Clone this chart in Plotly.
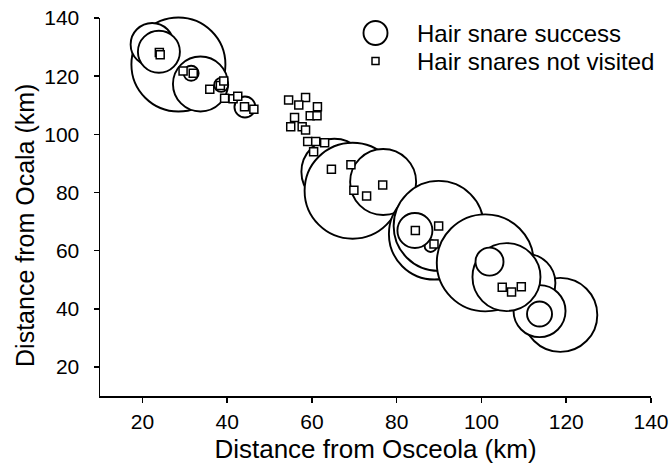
import plotly.graph_objects as go

# Hair snare success sites (bubble diameter in px reflects success)
success_x = [28.5, 22.3, 23.9, 33.7, 31.5, 38.6, 44.2, 65.3, 69.6, 76.8, 88.9, 89.9, 88.0, 84.3,
             100.9, 118.6, 110.6, 113.7, 113.7, 105.9, 101.9]
success_y = [124.0, 130.9, 128.4, 117.3, 121.0, 117.0, 109.4, 87.1, 80.6, 83.6, 65.7, 68.5, 61.6, 66.9,
             55.8, 37.9, 48.9, 39.2, 38.2, 50.9, 56.2]
success_value = [94, 43, 42, 55, 15, 14, 21, 66, 96, 66, 91, 90, 12, 35,
                 97, 74, 58, 52, 25, 68, 28]

# Hair snares not visited
novisit_x = [24.0, 24.2, 29.6, 32.0, 35.9, 38.4, 39.2, 39.4, 41.4, 42.5, 44.1, 46.3,
             54.5, 58.5, 56.9, 61.3, 59.6, 61.2, 55.9, 55.0, 57.7, 58.5, 59.0, 60.9, 63.0, 60.4,
             64.6, 69.2, 69.9, 72.9, 76.7,
             84.4, 89.9, 88.8, 104.9, 107.1, 109.4]
novisit_y = [128.1, 127.4, 121.8, 121.0, 115.5, 116.8, 118.3, 112.4, 112.2, 113.1, 109.5, 108.6,
             111.8, 112.7, 110.1, 109.5, 106.4, 106.4, 105.8, 102.6, 102.6, 101.5, 97.5, 97.5, 97.1, 94.0,
             88.0, 89.5, 80.8, 78.8, 82.6,
             66.9, 68.5, 62.3, 47.4, 45.8, 47.6]

tick_vals = [20, 40, 60, 80, 100, 120, 140]
legend_labels = ["Hair snare success", "Hair snares not visited"]
x_title = "Distance from Osceola (km)"
y_title = "Distance from Ocala (km)"

FONT = "Liberation Sans, Arial, sans-serif"

fig = go.Figure()
fig.add_trace(go.Scatter(
    x=success_x, y=success_y, mode="markers", showlegend=False, hoverinfo="skip",
    marker=dict(symbol="circle", size=success_value, color="white", opacity=1,
                line=dict(color="black", width=1.9)),
    cliponaxis=False,
))
fig.add_trace(go.Scatter(
    x=novisit_x, y=novisit_y, mode="markers", showlegend=False, hoverinfo="skip",
    marker=dict(symbol="square", size=8, color="white", opacity=1,
                line=dict(color="black", width=1.5)),
    cliponaxis=False,
))

axis_common = dict(
    showgrid=False, zeroline=False, showline=True, linecolor="black", linewidth=1.5,
    ticks="outside", ticklen=5, tickwidth=1.5, tickcolor="black",
    tickvals=tick_vals, tickfont=dict(family=FONT, size=21, color="black"),
    automargin=False, ticklabeloverflow="allow",
)

fig.update_layout(
    width=669, height=468,
    margin=dict(l=100, r=18, t=18, b=72, autoexpand=False),
    paper_bgcolor="white", plot_bgcolor="white",
    xaxis=dict(range=[10, 140], ticklabelstandoff=1,
               title=dict(text=x_title,
                          font=dict(family=FONT, size=26, color="black"), standoff=8),
               **axis_common),
    yaxis=dict(range=[10, 140], ticklabelstandoff=10, **axis_common),
)

# y-axis title as rotated text (slightly below the axis centre, as in the source)
fig.add_annotation(text=y_title, xref="paper", yref="paper", x=-0.136, y=0.45,
                   xanchor="center", yanchor="middle", textangle=-90, showarrow=False,
                   font=dict(family=FONT, size=25, color="black"))

# Manual legend
leg_x = 0.5
leg_y = [0.9603, 0.8862]
fig.add_shape(type="circle", xref="paper", yref="paper", xsizemode="pixel", ysizemode="pixel",
              xanchor=leg_x, yanchor=leg_y[0], x0=-12, x1=12, y0=-12, y1=12,
              line=dict(color="black", width=1.9), fillcolor="white")
fig.add_shape(type="rect", xref="paper", yref="paper", xsizemode="pixel", ysizemode="pixel",
              xanchor=leg_x, yanchor=leg_y[1], x0=-3.5, x1=3.5, y0=-3.5, y1=3.5,
              line=dict(color="black", width=1.5), fillcolor="white")
for lab, yy in zip(legend_labels, leg_y):
    fig.add_annotation(text=lab, xref="paper", yref="paper", x=0.5725, y=yy,
                       xanchor="left", yanchor="middle", showarrow=False,
                       font=dict(family=FONT, size=24, color="black"))

fig.write_html("out.html", config={"displayModeBar": False, "staticPlot": True},
               post_script="document.body.style.margin='0';document.body.style.overflow='hidden';")
